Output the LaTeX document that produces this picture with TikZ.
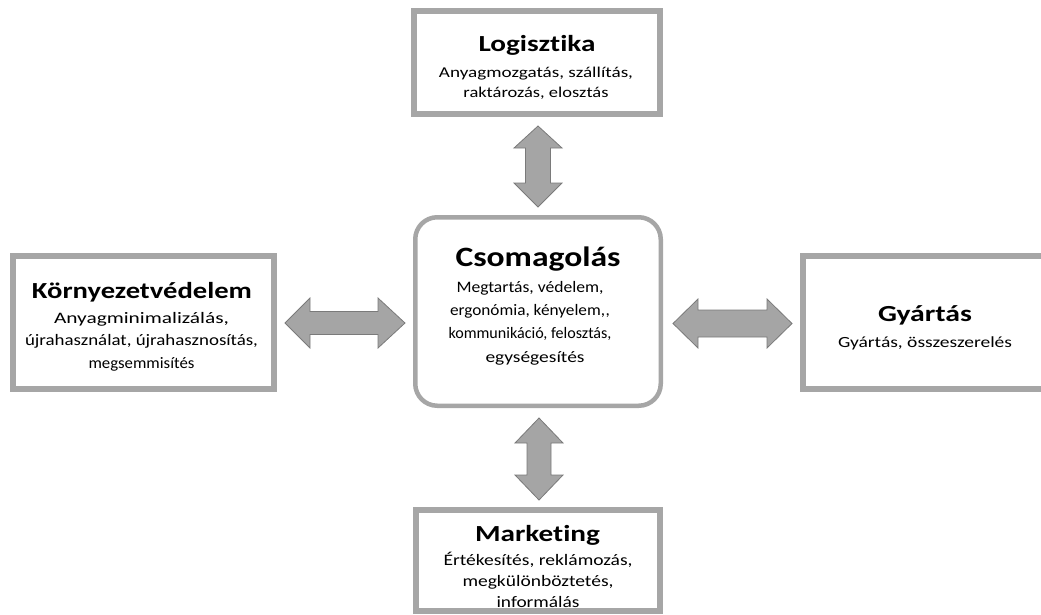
\documentclass[tikz,border=0pt]{standalone}
\usepackage{fontspec}
\usepackage{graphicx}
\defaultfontfeatures{}
\setmainfont{Carlito}[Ligatures={NoCommon}]
\definecolor{boxgray}{HTML}{A6A6A6}
\definecolor{arrfill}{HTML}{A5A5A5}
\definecolor{arrline}{HTML}{7A7A7A}
\newcommand\wl[2]{\resizebox{#1pt}{\height}{#2}}
\begin{document}
\begin{tikzpicture}[x=1pt,y=-1pt,
  sqbox/.style={draw=boxgray,line width=6pt,fill=white,inner sep=0pt},
  rbox/.style={draw=boxgray,line width=4.5pt,fill=white,rounded corners=22pt,inner sep=0pt},
  txt/.style={align=center,inner sep=0pt,text=black,anchor=base},
  ttl/.style={txt,font=\bfseries\fontsize{23}{28}\selectfont},
  fatarrow/.style={fill=arrfill,draw=arrline,line width=0.8pt,line join=miter},
]
\useasboundingbox (0,0) rectangle (1041,614);
% boxes
\node[sqbox,minimum width=246pt,minimum height=103pt] (log) at (537,62.5) {};
\node[rbox,minimum width=245.5pt,minimum height=188.5pt] (cso) at (538,311.5) {};
\node[sqbox,minimum width=261pt,minimum height=133pt] (kor) at (143.5,322.5) {};
\node[sqbox,minimum width=244pt,minimum height=133pt] (gya) at (925,322.5) {};
\node[draw=none,minimum width=244pt,minimum height=101pt,inner sep=0pt] (mar) at (538,560.5) {};
% texts
\node[ttl] (logt) at (537,51) {\wl{117}{Logisztika}};
\node[txt,font=\fontsize{15}{20}\selectfont] (logs) at (536,97)
  {\wl{194}{Anyagmozgatás, szállítás,}\\\wl{145}{raktározás, elosztás}};
\node[ttl,font=\bfseries\fontsize{28}{32}\selectfont] (csot) at (538,266) {\wl{165}{Csomagolás}};
\node[txt,font=\fontsize{16}{23.3}\selectfont] (csos) at (530,362)
  {\wl{147}{Megtartás, védelem,}\\\wl{160}{ergonómia, kényelem,\kern0.6pt,}\\\wl{163}{kommunikáció, felosztás,}\\\hspace*{10pt}\wl{99}{egységesítés}};
\node[ttl] (kort) at (142,298) {\wl{220}{Környezetvédelem}};
\node[txt,font=\fontsize{16}{22.5}\selectfont] (kors) at (141.5,368)
  {\wl{175}{Anyagminimalizálás,}\\\wl{233}{újrahasználat, újrahasznosítás,}\\\wl{106}{megsemmisítés}};
\node[ttl] (gyat) at (925,321) {\wl{94}{Gyártás}};
\node[txt,font=\fontsize{15.5}{20}\selectfont] (gyas) at (925,347) {\wl{174}{Gyártás, összeszerelés}};
\node[ttl] (mart) at (537.5,541) {\wl{125}{Marketing}};
\node[txt,font=\fontsize{16}{21}\selectfont] (mars) at (538,607)
  {\wl{189}{Értékesítés, reklámozás,}\\\wl{151}{megkülönböztetés,}\\\wl{83}{informálás}};
\draw[draw=boxgray,line width=6pt] (mar.north west) rectangle (mar.south east);
% arrows
\draw[fatarrow] (538,126) -- (562,148) -- (550.5,148) -- (550.5,183) -- (562,183) -- (538,207)
  -- (514,183) -- (525.5,183) -- (525.5,148) -- (514,148) -- cycle;
\draw[fatarrow] (539,418) -- (563,443) -- (551,443) -- (551,475) -- (563,475) -- (539,500)
  -- (515,475) -- (527,475) -- (527,443) -- (515,443) -- cycle;
\draw[fatarrow] (285,323) -- (310,298) -- (310,311.5) -- (378,311.5) -- (378,298) -- (405,323)
  -- (378,348) -- (378,334.5) -- (310,334.5) -- (310,348) -- cycle;
\draw[fatarrow] (673,323.5) -- (698,299) -- (698,310) -- (767,310) -- (767,299) -- (792,323.5)
  -- (767,348) -- (767,337) -- (698,337) -- (698,348) -- cycle;
\end{tikzpicture}
\end{document}
